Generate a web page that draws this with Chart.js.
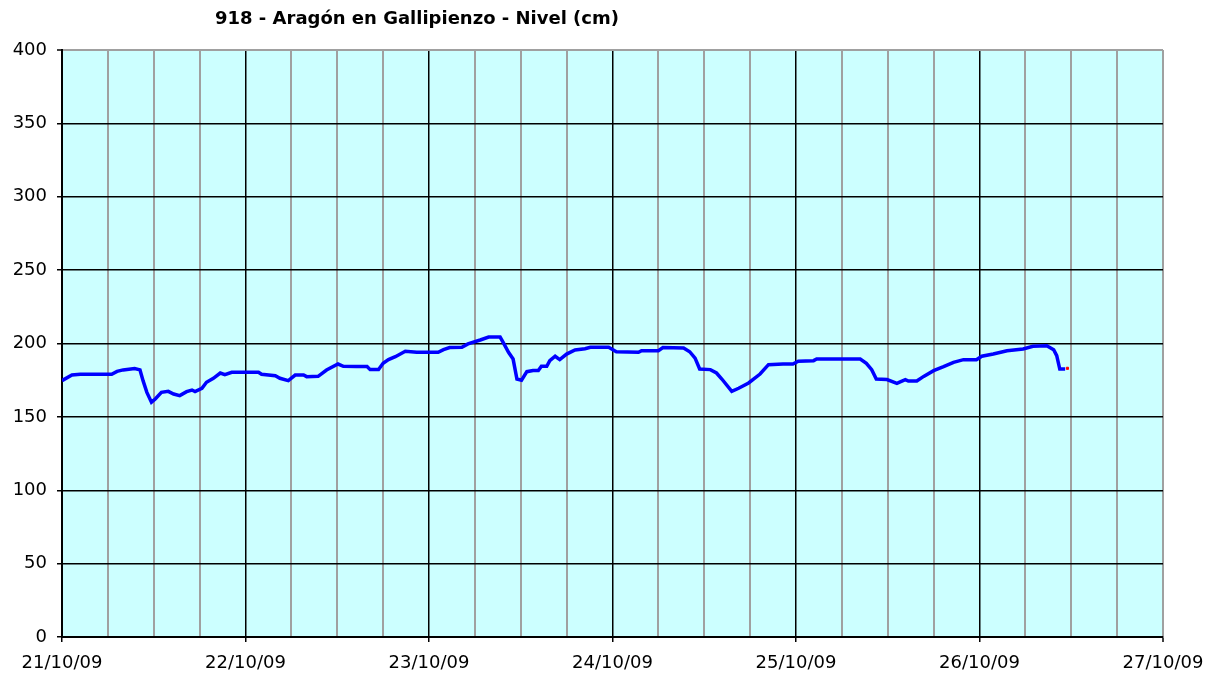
<!DOCTYPE html>
<html>
<head>
<meta charset="utf-8">
<script src="https://cdn.jsdelivr.net/npm/chart.js@4"></script>
<style>
html,body{margin:0;padding:0;background:#fff;}
#wrap{width:1222px;height:679px;position:relative;}
</style>
</head>
<body>
<div id="wrap"><canvas id="c" width="1222" height="679"></canvas></div>
<script>
const chartTitle = '918 - Aragón en Gallipienzo - Nivel (cm)';
const dayLabels = ['21/10/09','22/10/09','23/10/09','24/10/09','25/10/09','26/10/09','27/10/09'];
// hours since 21/10/09 00:00
const hours = [0.0,1.3,2.4,6.5,7.2,8.0,9.5,10.2,10.6,11.1,11.7,12.2,13.0,13.9,14.6,15.4,16.3,17.0,17.4,18.3,18.9,19.8,20.7,21.3,22.2,25.7,26.1,27.9,28.5,29.6,30.5,31.6,32.0,33.5,34.6,36.1,36.8,38.5,39.9,40.3,41.4,42.0,42.7,43.6,44.9,46.4,49.2,49.9,50.7,52.3,53.1,54.7,55.8,57.3,57.7,58.4,59.0,59.5,60.1,60.8,61.6,62.3,62.7,63.4,63.8,64.5,65.1,66.0,67.1,68.4,69.1,71.5,72.5,75.4,75.8,78.0,78.6,81.3,82.1,82.8,83.4,84.8,85.6,86.3,87.6,88.5,89.8,91.3,92.4,94.3,95.6,96.3,98.3,98.7,104.4,105.2,105.9,106.5,107.9,109.2,109.7,110.3,110.7,111.8,112.7,114.0,115.3,116.6,117.9,119.6,120.3,121.8,123.6,125.7,127.0,128.8,129.7,130.1,130.5,131.2];
const levels = [174.7,178.5,179,179,181,182,183,182,174.7,166.7,160,162.2,166.7,167.4,165.6,164.5,167.2,168.3,167.2,169.5,173.6,176.3,179.9,178.8,180.4,180.4,179,178,176.3,174.7,178.5,178.5,177.4,177.6,181.9,186,184.5,184.3,184.3,182.2,182.2,186.5,189,191,194.7,194,194,195.8,197.2,197.4,199.7,202.4,204.4,204.4,200.8,194,189.4,175.8,175,180.8,181.6,181.6,184.5,184.5,188.3,191.3,189,192.8,195.6,196.4,197.4,197.4,194.4,194,195.1,195.1,197.2,197,194.4,190,182.6,182.2,179.9,175.8,167.4,169.5,173.1,179.2,185.6,186,186,187.9,188.3,189.4,189.4,186.5,182.2,175.8,175.4,172.9,174,175.4,174.4,174.4,177.6,181.5,184.2,187.2,189,189,191.3,192.8,195.1,196.3,198.1,198.5,195.8,191.7,182.6,182.6];
const lastHours = [131.5];
const lastLevels = [183.1];

const FONT = "'DejaVu Sans', Verdana, sans-serif";

const bgPlugin = {
  id: 'bg',
  beforeDraw(chart) {
    const {ctx, chartArea: a} = chart;
    ctx.save();
    ctx.fillStyle = '#ffffff';
    ctx.fillRect(0, 0, chart.width, chart.height);
    ctx.fillStyle = '#ccffff';
    ctx.fillRect(a.left, a.top, a.right - a.left, a.bottom - a.top);
    ctx.restore();
  },
  afterDraw(chart) {
    const {ctx} = chart;
    ctx.save();
    ctx.font = "bold 18px " + FONT;
    ctx.fillStyle = '#000';
    ctx.textAlign = 'center';
    ctx.textBaseline = 'middle';
    ctx.fillText(chartTitle, 417, 19);
    ctx.restore();
  }
};

new Chart(document.getElementById('c'), {
  type: 'line',
  data: {
    datasets: [
      {
        data: hours.map((h, i) => ({x: h, y: levels[i]})),
        borderColor: '#0000ff',
        borderWidth: 3.5,
        pointRadius: 0,
        tension: 0,
        fill: false
      },
      {
        data: lastHours.map((h, i) => ({x: h, y: lastLevels[i]})),
        borderColor: '#ff0000',
        backgroundColor: '#ff0000',
        pointStyle: 'rect',
        pointRadius: 1.5,
        showLine: false
      }
    ]
  },
  plugins: [bgPlugin],
  options: {
    responsive: false,
    animation: false,
    layout: {padding: {left: 0, top: 50, right: 59, bottom: 0}},
    plugins: {legend: {display: false}, tooltip: {enabled: false}, title: {display: false}},
    scales: {
      x: {
        type: 'linear',
        min: 0,
        max: 144,
        afterFit: s => { s.height = 42; },
        ticks: {
          stepSize: 6,
          autoSkip: false,
          maxRotation: 0,
          padding: 11,
          color: '#000',
          font: {family: FONT, size: 18},
          callback: v => (v % 24 === 0 ? dayLabels[v / 24] : '')
        },
        grid: {
          color: c => (c.tick && c.tick.value === 144) ? '#a0a0a0' : (c.tick && c.tick.value % 24 === 0 ? '#000' : '#a0a0a0'),
          lineWidth: c => (c.tick && (c.tick.value % 24 === 0 || c.tick.value === 144)) ? (c.tick.value === 144 ? 2 : 1.5) : 2,
          tickColor: c => (c.tick && c.tick.value % 24 === 0) ? '#000' : 'rgba(0,0,0,0)',
          tickLength: 5,
          tickWidth: 1.5
        },
        border: {color: '#000', width: 2}
      },
      y: {
        min: 0,
        max: 400,
        afterFit: s => { s.width = 62; },
        ticks: {
          stepSize: 50,
          padding: 10,
          color: '#000',
          font: {family: FONT, size: 18}
        },
        grid: {
          color: c => (c.tick && c.tick.value === 400) ? '#a0a0a0' : '#000',
          lineWidth: c => (c.tick && c.tick.value === 400) ? 2 : 1.5,
          tickColor: '#000',
          tickLength: 5,
          tickWidth: 1.5
        },
        border: {color: '#000', width: 2}
      }
    }
  }
});
</script>
</body>
</html>
